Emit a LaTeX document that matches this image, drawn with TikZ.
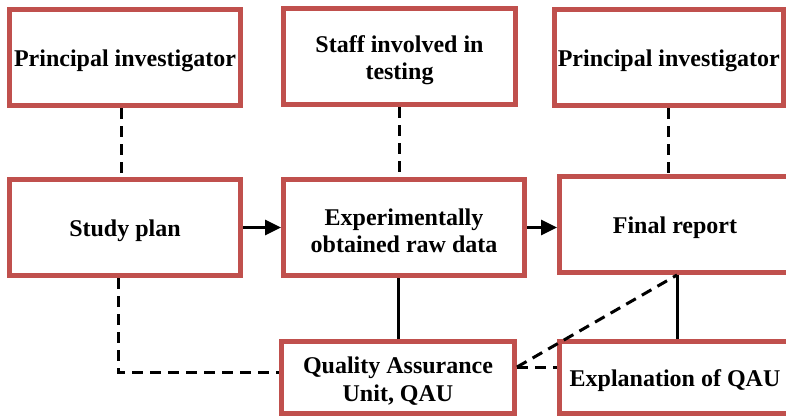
\documentclass[tikz,border=0pt]{standalone}
\usepackage{fontspec}
\setmainfont{Liberation Serif}
\usetikzlibrary{arrows.meta}
\definecolor{boxred}{HTML}{C0504D}
\tikzset{
  box/.style={draw=boxred, line width=5pt, fill=white, inner sep=0pt},
  txt/.style={align=center, inner sep=0pt, yshift=-3.5pt,
    font=\bfseries\fontsize{24}{27.5}\selectfont},
  link/.style={line width=3pt, black},
  dlink/.style={line width=3pt, black, dash pattern=on 11pt off 7pt},
  flow/.style={line width=3pt, black, -{Triangle[length=16pt,width=15pt]}}
}
\begin{document}
\begin{tikzpicture}[x=1pt,y=-1pt]
\useasboundingbox (0,0) rectangle (786,416);
\clip (0,0) rectangle (786,416);
\node[box, minimum width=231pt, minimum height=96pt, label={[txt]center:{Principal investigator}}] (pi1) at (125,57.5) {};
\node[box, minimum width=232pt, minimum height=96pt, label={[txt]center:{Staff involved in\\testing}}] (staff) at (399.5,56.5) {};
\node[box, minimum width=228.5pt, minimum height=96pt, label={[txt]center:{Principal investigator}}] (pi2) at (668.75,57.5) {};
\node[box, minimum width=231pt, minimum height=96pt, label={[txt]center:{Study plan}}] (study) at (125,227.5) {};
\node[box, minimum width=241pt, minimum height=96pt, label={[txt]center:{Experimentally\\obtained raw data}}] (exp) at (404,227.5) {};
\node[box, minimum width=231pt, minimum height=96pt, label={[txt]center:{Final report}}] (final) at (675,224.5) {};
\node[box, minimum width=233pt, minimum height=72pt, label={[txt]center:{Quality Assurance\\Unit, QAU}}] (qau) at (398,377.5) {};
\node[box, minimum width=231pt, minimum height=72pt, label={[txt]center:{Explanation of QAU}}] (expl) at (675,377.5) {};

\draw[dlink] ([xshift=-4pt]pi1.south) -- ([xshift=-4pt]pi1.south |- study.north);
\draw[dlink] (staff.south) -- (staff.south |- exp.north);
\draw[dlink] (pi2.south) -- (pi2.south |- final.north);
\draw[flow] (study.east) -- (exp.west);
\draw[flow] (exp.east) -- (exp.east -| final.west);
\draw[dlink] ([xshift=-7pt]study.south) |- ([yshift=5.5pt]qau.west);
\draw[link] (qau.north) -- (qau.north |- exp.south);
\draw[link] ([xshift=2pt]final.south) -- ([xshift=2pt]final.south |- expl.north);
\draw[dlink] ([yshift=10.5pt]qau.east) -- ([yshift=10.5pt]qau.east -| expl.west);
\draw[dlink] ([yshift=10.5pt]qau.east) -- ([xshift=2pt]final.south);
\end{tikzpicture}
\end{document}
